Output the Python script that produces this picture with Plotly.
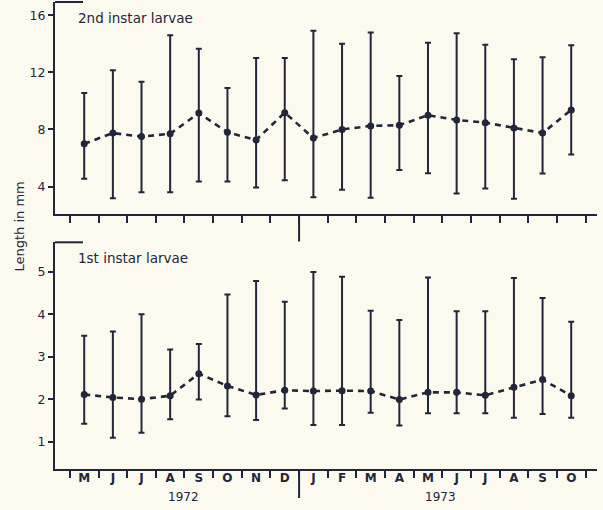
import plotly.graph_objects as go

months = ["M", "J", "J", "A", "S", "O", "N", "D", "J", "F", "M", "A", "M", "J", "J", "A", "S", "O"]
years = ["1972", "1973"]

# 2nd instar larvae (mm)
mean2 = [7.0, 7.75, 7.5, 7.7, 9.15, 7.8, 7.27, 9.18, 7.4, 8.0, 8.25, 8.3, 9.0, 8.67, 8.48, 8.1, 7.75, 9.37]
max2 = [10.55, 12.15, 11.35, 14.6, 13.65, 10.9, 13.0, 13.0, 14.92, 14.0, 14.8, 11.75, 14.08, 14.74, 13.94, 12.92, 13.06, 13.9]
min2 = [4.55, 3.18, 3.6, 3.6, 4.35, 4.35, 3.93, 4.45, 3.26, 3.77, 3.21, 5.17, 4.94, 3.51, 3.86, 3.14, 4.91, 6.24]

# 1st instar larvae (mm)
mean1 = [2.11, 2.04, 2.0, 2.08, 2.6, 2.31, 2.1, 2.21, 2.19, 2.2, 2.19, 1.99, 2.16, 2.16, 2.09, 2.28, 2.46, 2.08]
max1 = [3.49, 3.59, 4.0, 3.17, 3.3, 4.46, 4.78, 4.29, 4.99, 4.88, 4.08, 3.86, 4.86, 4.07, 4.07, 4.85, 4.38, 3.82]
min1 = [1.42, 1.09, 1.21, 1.53, 1.99, 1.6, 1.51, 1.78, 1.39, 1.39, 1.68, 1.38, 1.67, 1.67, 1.67, 1.56, 1.65, 1.56]

INK = "#23263a"
BG = "#fcfaee"
FONT = "DejaVu Sans, Liberation Sans, sans-serif"

xs = list(range(len(months)))

def series(mean, mx, mn, xa, ya):
    return go.Scatter(
        x=xs, y=mean, xaxis=xa, yaxis=ya, mode="lines+markers",
        line=dict(color=INK, width=2.6, dash="6px,5px"),
        marker=dict(color=INK, size=7),
        error_y=dict(type="data", symmetric=False,
                     array=[a - b for a, b in zip(mx, mean)],
                     arrayminus=[b - c for b, c in zip(mean, mn)],
                     color=INK, thickness=2, width=3),
        showlegend=False, hoverinfo="skip",
    )

fig = go.Figure()
fig.add_trace(series(mean2, max2, min2, "x2", "y2"))
fig.add_trace(series(mean1, max1, min1, "x", "y"))

W, H = 603, 510
xdom = [55 / W, 597 / W]
xrange_ = [-1.02, 17.9]
half_ticks = [i - 0.5 for i in range(len(months) + 1)]

fig.update_layout(
    width=W, height=H, margin=dict(l=0, r=0, t=0, b=0),
    paper_bgcolor=BG, plot_bgcolor=BG,
    font=dict(family=FONT, color=INK, size=12),
    xaxis=dict(domain=xdom, range=xrange_, anchor="y",
               showline=True, linecolor=INK, linewidth=2,
               tickmode="array", tickvals=xs, ticktext=months,
               ticks="outside", ticklen=0, tickcolor=INK,
               ticklabelstandoff=-4,
               tickfont=dict(family=FONT, size=12, color=INK, weight="bold"),
               minor=dict(tickmode="array", tickvals=half_ticks, ticks="outside",
                          ticklen=7, tickwidth=1.6, tickcolor=INK),
               showgrid=False, zeroline=False),
    yaxis=dict(domain=[1 - 469.3 / H, 1 - 242.3 / H], range=[0.35, 5.69], anchor="x",
               showline=True, linecolor=INK, linewidth=2,
               tickvals=[1, 2, 3, 4, 5], ticks="outside", ticklen=5, tickwidth=1.6, tickcolor=INK,
               tickfont=dict(family=FONT, size=12.5, color=INK),
               showgrid=False, zeroline=False),
    xaxis2=dict(domain=xdom, range=xrange_, anchor="y2",
                showline=True, linecolor=INK, linewidth=2,
                tickmode="array", tickvals=half_ticks, showticklabels=False,
                ticks="outside", ticklen=7, tickwidth=1.6, tickcolor=INK,
                showgrid=False, zeroline=False),
    yaxis2=dict(domain=[1 - 214 / H, 1 - 2 / H], range=[2.08, 16.93], anchor="x2",
                showline=True, linecolor=INK, linewidth=2,
                tickvals=[4, 8, 12, 16], ticks="outside", ticklen=5, tickwidth=1.6, tickcolor=INK,
                tickfont=dict(family=FONT, size=12.5, color=INK),
                showgrid=False, zeroline=False),
)

# corner brackets at top of each panel
for ytop in [1 - 2 / H, 1 - 242.3 / H]:
    fig.add_shape(type="line", xref="paper", yref="paper",
                  x0=55 / W, x1=83 / W, y0=ytop, y1=ytop,
                  line=dict(color=INK, width=2))

# year dividers
fig.add_shape(type="line", xref="x2", yref="paper", x0=7.5, x1=7.5,
              y0=1 - 214 / H, y1=1 - 241.5 / H, line=dict(color=INK, width=2))
fig.add_shape(type="line", xref="x", yref="paper", x0=7.5, x1=7.5,
              y0=1 - 469.3 / H, y1=1 - 498 / H, line=dict(color=INK, width=2))

# panel labels
fig.add_annotation(text="2nd instar larvae", xref="paper", yref="paper",
                   x=76 / W, y=1 - 18 / H, xanchor="left", yanchor="middle",
                   showarrow=False, font=dict(family=FONT, size=13.5, color=INK))
fig.add_annotation(text="1st instar larvae", xref="paper", yref="paper",
                   x=76 / W, y=1 - 258 / H, xanchor="left", yanchor="middle",
                   showarrow=False, font=dict(family=FONT, size=13.5, color=INK))

# year labels
fig.add_annotation(text=years[0], xref="x", yref="paper", x=3.45, y=1 - 497 / H,
                   xanchor="center", yanchor="middle", showarrow=False,
                   font=dict(family=FONT, size=12, color=INK))
fig.add_annotation(text=years[1], xref="x", yref="paper", x=12.45, y=1 - 497 / H,
                   xanchor="center", yanchor="middle", showarrow=False,
                   font=dict(family=FONT, size=12, color=INK))

# y-axis title
fig.add_annotation(text="Length in mm", xref="paper", yref="paper",
                   x=19 / W, y=1 - 226.5 / H, xanchor="center", yanchor="middle",
                   textangle=-90, showarrow=False,
                   font=dict(family=FONT, size=13, color=INK))

fig.write_html("out.html", config={"displayModeBar": False},
               post_script="document.body.style.margin='0';")
